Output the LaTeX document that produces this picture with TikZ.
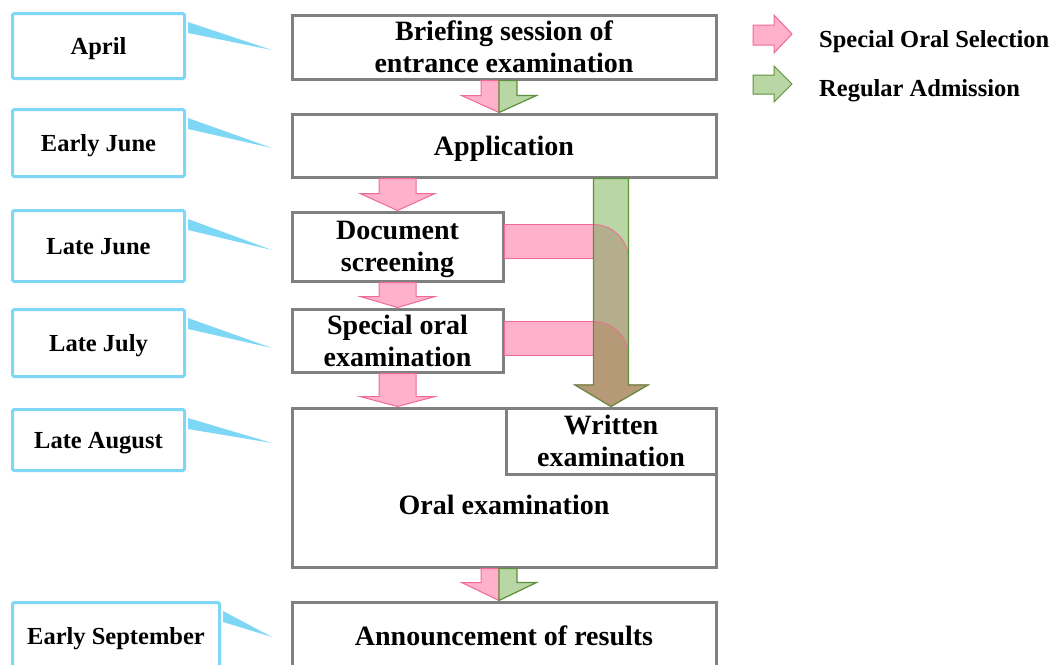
\documentclass[tikz,border=0pt]{standalone}
\usepackage{fontspec}
\setmainfont{Liberation Serif}
\usetikzlibrary{calc}

\definecolor{monthline}{HTML}{7DD7F5}
\definecolor{stepline}{HTML}{808080}
\definecolor{oralfill}{HTML}{FFB0CB}
\definecolor{oralline}{HTML}{F06A96}
\definecolor{regfill}{HTML}{B9D7A4}
\definecolor{regline}{HTML}{5E8F3C}
\definecolor{mixone}{HTML}{B5AE8C}
\definecolor{mixtwo}{HTML}{B69A78}

\tikzset{
  steptext/.style={inner sep=0pt, align=center, text depth=0pt, font=\fontsize{28}{32}\selectfont\bfseries},
  stepbox/.style={steptext, draw=stepline, line width=3pt, fill=white},
  monthbox/.style={draw=monthline, line width=3pt, rounded corners=1.5pt, fill=white, inner sep=0pt,
    align=center, text depth=0pt, minimum width=172pt, font=\fontsize{24.5}{28}\selectfont\bfseries},
  legendtext/.style={anchor=west, inner sep=0pt, text depth=0pt, font=\fontsize{24.5}{28}\selectfont\bfseries},
  pinkarrow/.style={fill=oralfill, draw=oralline, line width=1pt},
  greenarrow/.style={fill=regfill, draw=regline, line width=1.2pt},
}

% block arrow between two steps: x, upper node, lower node, head length
\newcommand\pinkstep[4]{%
  \draw[pinkarrow] let \p1=(#2.south), \p2=(#3.north) in
    ({(#1-18.5)*1pt},\y1) -- ({(#1+18.5)*1pt},\y1) -- ({(#1+18.5)*1pt},\y2+#4pt)
    -- ({(#1+37.5)*1pt},\y2+#4pt) -- ({#1*1pt},\y2) -- ({(#1-37.5)*1pt},\y2+#4pt)
    -- ({(#1-18.5)*1pt},\y2+#4pt) -- cycle;}
\newcommand\splitstep[4]{%
  \draw[pinkarrow] let \p1=(#2.south), \p2=(#3.north) in
    ({(#1-18)*1pt},\y1) -- ({#1*1pt},\y1) -- ({#1*1pt},\y2)
    -- ({(#1-37.5)*1pt},\y2+#4pt) -- ({(#1-18)*1pt},\y2+#4pt) -- cycle;
  \draw[greenarrow] let \p1=(#2.south), \p2=(#3.north) in
    ({#1*1pt},\y1) -- ({(#1+18)*1pt},\y1) -- ({(#1+18)*1pt},\y2+#4pt)
    -- ({(#1+37.5)*1pt},\y2+#4pt) -- ({#1*1pt},\y2) -- cycle;}
% regular admission arrow and the bent special arrows
\def\regpath{(appl.south -| sl) -- (appl.south -| sr) -- (sr) -- (hr) -- (written.north) -- (hl) -- (sl) -- cycle}
\def\bendpath#1#2{($(#1.east)+(0,#2)$) coordinate (bt) -- (bt -| sl)
  arc[start angle=90, end angle=0, radius=35pt] -- (sr) -- (hr) -- (written.north) -- (hl) -- (sl)
  -- ($(bt -| sl)+(0,34)$) -- ($(bt)+(0,34)$) -- cycle}

\begin{document}
\begin{tikzpicture}[x=1pt, y=-1pt]
  \useasboundingbox (0,0) rectangle (1059,664);

  % Steps
  \node[stepbox, minimum width=424pt, minimum height=64pt] (brief) at (504,47) {Briefing session of\\entrance examination};
  \node[stepbox, minimum width=424pt, minimum height=63pt] (appl) at (504,145.5) {Application};
  \node[stepbox, minimum width=211pt, minimum height=69pt] (docs) at (397.5,246.5) {Document\\screening};
  \node[stepbox, minimum width=211pt, minimum height=63pt] (spor) at (397.5,340.5) {Special oral\\examination};
  \node[stepbox, minimum width=424pt, minimum height=159pt] (oral) at (504,487.5) {};
  \node[steptext] (oraltext) at (504,505) {Oral examination};
  \node[stepbox, minimum width=210pt, minimum height=66pt] (written) at (611,441) {Written\\examination};
  \node[stepbox, minimum width=424pt, minimum height=68pt] (annc) at (504,636) {Announcement of results};

  % Months
  \node[monthbox, minimum height=65pt] (april) at (98.5,46) {April};
  \node[monthbox, minimum height=67pt] (ejune) at (98.5,143) {Early June};
  \node[monthbox, minimum height=71pt] (ljune) at (98.5,246) {Late June};
  \node[monthbox, minimum height=67pt] (ljuly) at (98.5,343) {Late July};
  \node[monthbox, minimum height=61pt] (laug) at (98.5,440) {Late August};
  \node[monthbox, minimum width=207pt, minimum height=67pt] (esep) at (116,636) {Early September};

  % callout pointers
  \coordinate (ptip) at (272,0);
  \foreach \m/\dy in {april/4, ejune/5, ljune/4, ljuly/5, laug/3, esep/1}
    \fill[monthline] ([xshift=2pt,yshift=-10pt]\m.north east) -- ([xshift=2pt,yshift=-21pt]\m.north east)
      -- ($(\m.east -| ptip)+(0,\dy)$) -- cycle;

  % Arrows between steps
  \splitstep{499}{brief}{appl}{17}
  \pinkstep{397.5}{appl}{docs}{17}
  \pinkstep{397.5}{docs}{spor}{11}
  \pinkstep{397.5}{spor}{oral}{10}
  \splitstep{499}{oral}{annc}{18}

  % Regular admission goes straight to the written examination
  \coordinate (sl) at (593.5,385);
  \coordinate (sr) at (628.5,385);
  \coordinate (hl) at (575,385);
  \coordinate (hr) at (648,385);
  \fill[regfill] \regpath;
  \fill[oralfill] \bendpath{docs}{-22};
  \fill[oralfill] \bendpath{spor}{-19};
  \begin{scope}
    \clip \regpath;
    \fill[mixone] \bendpath{docs}{-22};
    \fill[mixtwo] \bendpath{spor}{-19};
  \end{scope}
  \draw[oralline, line width=0.8pt] \bendpath{docs}{-22};
  \draw[oralline, line width=0.8pt] \bendpath{spor}{-19};
  \draw[regline, line width=1.2pt] \regpath;

  % Legend
  \fill[oralfill, draw=oralline, line width=1pt] (753,25) -- (774,25) -- (774,15) -- (792,34) -- (774,53) -- (774,45) -- (753,45) -- cycle;
  \node[legendtext] (legspecial) at (819,39) {Special Oral Selection};
  \fill[regfill, draw=regline, line width=1pt] (753,75) -- (774,75) -- (774,66) -- (792,84) -- (774,102) -- (774,94) -- (753,94) -- cycle;
  \node[legendtext] (legregular) at (819,88) {Regular Admission};
\end{tikzpicture}
\end{document}
